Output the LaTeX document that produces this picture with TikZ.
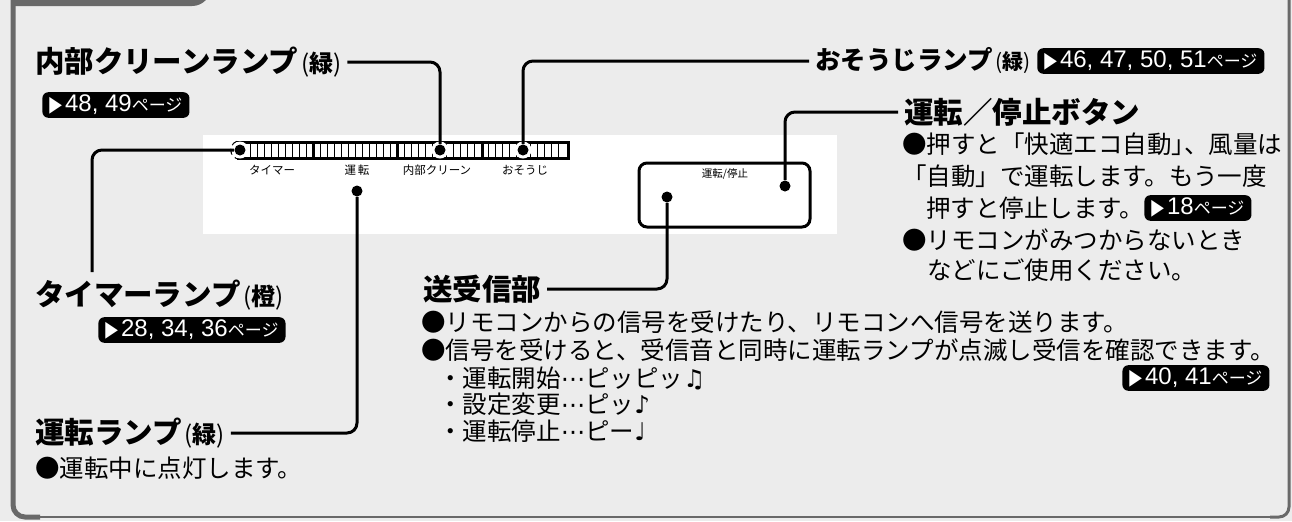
\documentclass[tikz,border=0pt]{standalone}
\usepackage{fontspec}
\setmainfont{Noto Sans CJK JP}
\newfontfamily\notefont{DejaVu Sans}
\newfontfamily\badgefont{Liberation Sans}
\usepackage{graphicx}
\usepackage{tikz}
\usetikzlibrary{positioning}
\usepackage{xcolor}
\definecolor{bgdots}{RGB}{236,236,236}
\definecolor{framegray}{RGB}{105,105,105}
\tikzstyle{leader} = [line width=1.5pt, rounded corners=5pt]
\tikzstyle{lampdot} = [circle, fill=black, minimum size=5.5pt, inner sep=0pt]
\tikzstyle{halo} = [circle, fill=white, minimum size=8.5pt, inner sep=0pt]
\tikzstyle{ttl} = [anchor=west, inner sep=0pt, outer xsep=3pt, font=\fontsize{14.75}{17}\selectfont\bfseries]
\tikzstyle{body} = [anchor=west, inner sep=0pt, font=\fontsize{12.25}{15}\selectfont]
\tikzstyle{badge} = [anchor=west, fill=black, text=white, rounded corners=3pt, inner xsep=3.5pt, inner ysep=1pt, text height=8.6pt, text depth=2.2pt, font=\badgefont\fontsize{12}{13}\selectfont]
\tikzstyle{tiny} = [inner sep=0pt, font=\fontsize{5.75}{6}\selectfont]
\newcommand{\tri}{\scalebox{0.75}[1]{\notefont\fontsize{11}{12}\selectfont ▶}\kern1.5pt}
\newcommand{\pg}{{\rmfamily\fontsize{8.5}{9}\selectfont ページ}}
\newcommand{\kakko}[2][12]{{\fontsize{#1}{#1}\selectfont\kern1.5pt{\mdseries(}#2{\mdseries)}}}
\newcommand{\tendots}{{\notefont ⋯}}

\begin{document}
\begin{tikzpicture}[x=0.5pt, y=-0.5pt]
\useasboundingbox (0,0) rectangle (1292,521);
\fill[bgdots] (0,0) rectangle (1292,521);
% frame
\draw[framegray, line width=2.5pt, rounded corners=6pt] (13,-10) -- (13,517) -- (40,517);
\draw[framegray, line width=0.8pt] (30,517) -- (1280,517);
\draw[framegray, line width=1.5pt, rounded corners=5pt] (1289,-10) -- (1289,517) -- (1270,517);
\draw[framegray, line width=3pt, rounded corners=8pt] (13,3) -- (208,3) -- (208,-20);

% indoor unit panel
\fill[white] (203,135) rectangle (837,234);
\foreach \x in {250,257,...,563}
  \draw[line width=0.5pt] (\x,143) -- (\x,157);
\draw[line width=1.5pt] (238,142) rectangle (568,158);
\foreach \x in {313,397,482}
  \draw[line width=1.5pt] (\x,142) -- (\x,158);
\draw[densely dashed, line width=0.6pt] ([shift={(110:4.6pt)}]240,150) arc[start angle=110, end angle=250, radius=4.6pt];

\node[halo] at (240,150) {};
\node[halo] at (440,150) {};
\node[halo] at (523,150) {};
\node[lampdot] (dTimer) at (240,150) {};
\node[lampdot] (dClean) at (440,150) {};
\node[lampdot] (dOsouji) at (523,150) {};
\node[lampdot] (dUnten) at (357,191) {};

\node[tiny] (lbTimer) at (272,170) {タイマー};
\node[tiny] (lbUnten) at (357,170) {運\,転};
\node[tiny] (lbClean) at (437,170) {内部クリーン};
\node[tiny] (lbOsouji) at (525,170) {おそうじ};

% on/off button
\draw[line width=1.5pt, rounded corners=4pt] (639,163) rectangle (810,227);
\node[tiny, font=\fontsize{5.25}{6}\selectfont] (lbButton) at (725,174) {運転/停止};
\node[lampdot] (dBtnR) at (785,186) {};
\node[lampdot] (dBtnL) at (667,197) {};

% left labels
\node[ttl] (ttlClean) at (29,62) {内部クリーンランプ\kakko{緑}};
\node[badge] (pg4849) at (42,105) {\tri48, 49\pg};
\node[ttl] (ttlTimer) at (29,295) {タイマーランプ\kakko{橙}};
\node[badge] (pg2834) at (98,330) {\tri28, 34, 36\pg};
\node[ttl] (ttlUnten) at (29,433) {運転ランプ\kakko{緑}};
\node[body] (txtUnten) at (35,468) {●運転中に点灯します。};

% right labels
\node[ttl, font=\fontsize{12.75}{15}\selectfont\bfseries] (ttlOsouji) at (809,61) {おそうじランプ\kakko[10.5]{緑}};
\node[badge, right=0pt of ttlOsouji] (pg4651) {\tri46, 47, 50, 51\pg};
\node[ttl] (ttlButton) at (898,112) {運転／停止ボタン};
\node[body] (btnA) at (902,144) {●押すと「快適エコ自動」\kern-.5em、風量は};
\node[body] (btnB) at (902,176) {「自動」で運転します。もう一度};
\node[body] (btnC) at (926,208) {押すと停止します。};
\node[badge] (pg18) at (1144,208) {\tri18\pg};
\node[body] (btnD) at (902,240) {●リモコンがみつからないとき};
\node[body] (btnE) at (927,270) {などにご使用ください。};

% transceiver
\node[ttl] (ttlSoju) at (417,289) {送受信部};
\node[body] (sojuA) at (421,322) {●リモコンからの信号を受けたり、リモコンへ信号を送ります。};
\node[body] (sojuB) at (421,350) {●信号を受けると、受信音と同時に運転ランプが点滅し受信を確認できます。};
\node[body] (sojuC) at (438,378) {・運転開始\tendots ピッピッ{\notefont ♫}};
\node[badge] (pg4041) at (1122,378) {\tri40, 41\pg};
\node[body] (sojuD) at (438,404) {・設定変更\tendots ピッ{\notefont ♪}};
\node[body] (sojuE) at (438,431) {・運転停止\tendots ピー{\notefont ♩}};

% leaders
\coordinate (tmEnd) at (92,272);
\draw[leader] (ttlClean.east) -| (dClean);
\draw[leader] (dOsouji) |- (ttlOsouji.west);
\draw[leader] (dBtnR) |- (ttlButton.west);
\draw[leader] (dTimer) -| (tmEnd);
\draw[leader] (dUnten) |- (ttlUnten.east);
\draw[leader] (dBtnL) |- (ttlSoju.east);
\end{tikzpicture}
\end{document}
